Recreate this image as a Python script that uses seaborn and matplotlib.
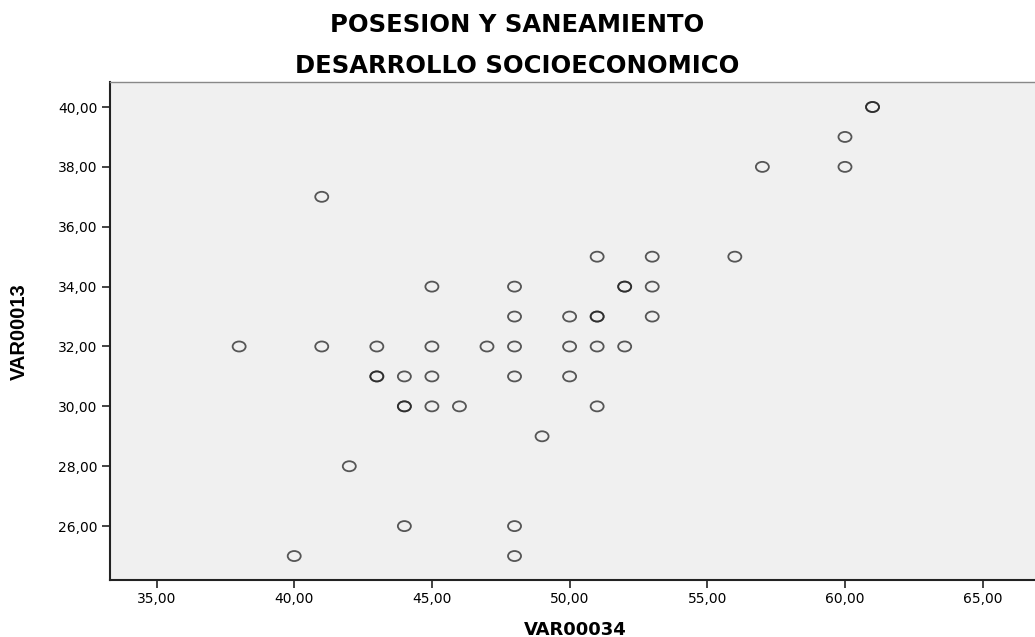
import numpy as np
import pandas as pd
import matplotlib
matplotlib.use('Agg')
import matplotlib.pyplot as plt
import seaborn as sns
from matplotlib.path import Path
from matplotlib.transforms import Affine2D
from matplotlib.ticker import FuncFormatter, MultipleLocator

# values (duplicates drawn twice)
var34 = [61, 61, 60, 57, 60, 41,
         51, 53, 56,
         45, 48, 52, 52, 53,
         48, 50, 51, 51, 53,
         38, 41, 43, 45, 47, 48, 50, 51, 52,
         43, 43, 44, 45, 48, 50,
         44, 44, 45, 46, 51,
         49, 42, 44, 48, 40, 48]
var13 = [40, 40, 39, 38, 38, 37,
         35, 35, 35,
         34, 34, 34, 34, 34,
         33, 33, 33, 33, 33,
         32, 32, 32, 32, 32, 32, 32, 32, 32,
         31, 31, 31, 31, 31, 31,
         30, 30, 30, 30, 30,
         29, 28, 26, 26, 25, 25]
y_ticks = [26, 28, 30, 32, 34, 36, 38, 40]

df = pd.DataFrame({'VAR00034': var34, 'VAR00013': var13})

sns.set_style('white')
plt.rcParams['font.family'] = ['DejaVu Sans']
plt.rcParams['text.color'] = 'black'
plt.rcParams['axes.labelcolor'] = 'black'
plt.rcParams['xtick.color'] = 'black'
plt.rcParams['ytick.color'] = 'black'

fig = plt.figure(figsize=(10.35, 6.37), dpi=100)
ax = fig.add_axes([0.106, 0.0895, 0.894, 0.782])
ax.set_facecolor('#f0f0f0')

# slightly flattened open circle, like the original export
ellipse = Path.unit_circle().transformed(Affine2D().scale(1.3, 1.0))

sns.scatterplot(data=df, x='VAR00034', y='VAR00013', ax=ax,
                marker=ellipse, s=88, facecolor='none', edgecolor='#222222',
                linewidth=1.3, alpha=0.75)

ax.set_xlim(33.3, 66.9)
ax.set_ylim(24.2, 40.84)
ax.xaxis.set_major_locator(MultipleLocator(5))
ax.set_yticks(y_ticks)
fmt = FuncFormatter(lambda v, p: f'{v:.2f}'.replace('.', ','))
ax.xaxis.set_major_formatter(fmt)
ax.yaxis.set_major_formatter(fmt)
ax.tick_params(axis='both', direction='out', length=6, width=1.2,
               color='#222222', labelsize=10, left=True, bottom=True, pad=3)

for side in ['left', 'bottom']:
    ax.spines[side].set_color('#222222')
    ax.spines[side].set_linewidth(1.5)
ax.spines['top'].set_color('#888888')
ax.spines['top'].set_linewidth(1.0)
ax.spines['right'].set_visible(False)

ax.set_xlabel('VAR00034', fontsize=13, fontweight='bold')
ax.xaxis.label.set_va('center')
ax.xaxis.set_label_coords(0.503, -0.1004)
ax.set_ylabel('VAR00013', fontsize=14.5, fontweight='bold',
              family=['Liberation Sans Narrow', 'Liberation Sans'])
ax.yaxis.label.set_va('center')
ax.yaxis.label.set_ha('center')
ax.yaxis.set_label_coords(-0.0975, 0.498)

fig.text(0.5, 0.9615, 'POSESION Y SANEAMIENTO', ha='center', va='center',
         fontsize=17.5, fontweight='bold')
fig.text(0.5, 0.897, 'DESARROLLO SOCIOECONOMICO', ha='center', va='center',
         fontsize=17.5, fontweight='bold')

fig.savefig('out.png', dpi=100)
